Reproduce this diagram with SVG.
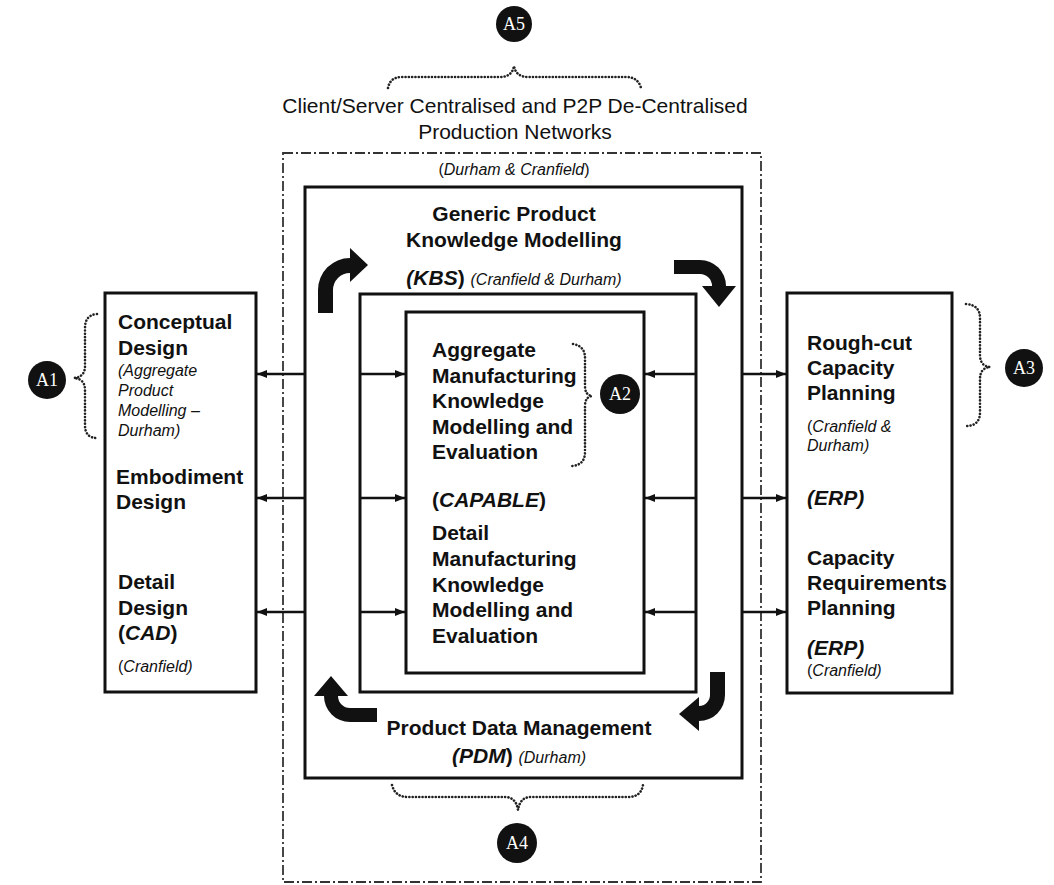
<svg xmlns="http://www.w3.org/2000/svg" width="1054" height="885" viewBox="0 0 1054 885">
  <defs>
    <style>
      .box { fill: none; stroke: #111; stroke-width: 3; }
      .dashbox { fill: none; stroke: #333; stroke-width: 1.8; stroke-dasharray: 10 3 2 3; }
      .conn { stroke: #111; stroke-width: 2.5; fill: none; marker-end: url(#head); }
      .brace { fill: none; stroke: #222; stroke-width: 2.6; stroke-linecap: round; stroke-dasharray: 0.1 3.2; }
      .bend { fill: #111; stroke: none; }
      .badge { fill: #111; }
      .badge-t { font-family: "Liberation Serif", "Times New Roman", serif; font-size: 18px; fill: #fff; text-anchor: middle; }
      .t { font-family: "Liberation Sans", Arial, sans-serif; font-size: 21px; fill: #111; }
      .b { font-family: "Liberation Sans", Arial, sans-serif; font-size: 21px; font-weight: bold; fill: #111; }
      .s { font-family: "Liberation Sans", Arial, sans-serif; font-size: 16px; font-style: italic; fill: #111; }
      .it { font-style: italic; }
      .up { font-style: normal; }
      .mid { text-anchor: middle; }
    </style>
    <marker id="head" viewBox="0 0 10 8" refX="10" refY="4" markerWidth="10" markerHeight="8" markerUnits="userSpaceOnUse" orient="auto">
      <path d="M0,0 L10,4 L0,8 z" fill="#111"/>
    </marker>
  </defs>

  <rect width="1054" height="885" fill="#fff"/>

  <!-- network boundary (A5) -->
  <g id="network">
    <text class="t mid" x="515" y="113">Client/Server Centralised and P2P De-Centralised</text>
    <text class="t mid" x="515" y="139">Production Networks</text>
    <rect class="dashbox" x="283" y="153" width="478" height="729"/>
    <text class="s mid" x="514" y="175"><tspan class="up">(</tspan>Durham &amp; Cranfield<tspan class="up">)</tspan></text>
  </g>

  <!-- KBS / PDM frame -->
  <g id="kbs-pdm">
    <rect class="box" x="305" y="187" width="437" height="591"/>
    <text class="b mid" x="514" y="221">Generic Product</text>
    <text class="b mid" x="514" y="247">Knowledge Modelling</text>
    <text class="b mid" x="514" y="285"><tspan class="it">(KBS</tspan>) <tspan font-size="16" font-weight="normal" font-style="italic">(Cranfield &amp; Durham)</tspan></text>
    <text class="b mid" x="519" y="735">Product Data Management</text>
    <text class="b mid" x="519" y="763"><tspan class="it">(PDM</tspan>) <tspan font-size="16" font-weight="normal" font-style="italic">(Durham)</tspan></text>
  </g>

  <!-- middle frame -->
  <g id="middle-frame">
    <rect class="box" x="360" y="294" width="336" height="398"/>
  </g>

  <!-- CAPABLE -->
  <g id="capable">
    <rect class="box" x="406" y="312" width="238" height="361" stroke-width="2.6"/>
    <text class="b" x="432" y="357">Aggregate</text>
    <text class="b" x="432" y="382.5">Manufacturing</text>
    <text class="b" x="432" y="408">Knowledge</text>
    <text class="b" x="432" y="433.5">Modelling and</text>
    <text class="b" x="432" y="459">Evaluation</text>
    <text class="b" x="432" y="507">(<tspan class="it">CAPABLE</tspan>)</text>
    <text class="b" x="432" y="540">Detail</text>
    <text class="b" x="432" y="566">Manufacturing</text>
    <text class="b" x="432" y="591.5">Knowledge</text>
    <text class="b" x="432" y="617">Modelling and</text>
    <text class="b" x="432" y="642.5">Evaluation</text>
  </g>

  <!-- design stages -->
  <g id="design">
    <rect class="box" x="105" y="293" width="151" height="399"/>
    <text class="b" x="118" y="329">Conceptual</text>
    <text class="b" x="118" y="355">Design</text>
    <text class="s" x="118" y="376">(Aggregate</text>
    <text class="s" x="118" y="396">Product</text>
    <text class="s" x="118" y="416">Modelling –</text>
    <text class="s" x="118" y="436">Durham)</text>
    <text class="b" x="116" y="484">Embodiment</text>
    <text class="b" x="116" y="509">Design</text>
    <text class="b" x="118" y="589">Detail</text>
    <text class="b" x="118" y="615">Design</text>
    <text class="b" x="118" y="640">(<tspan class="it">CAD</tspan>)</text>
    <text class="s" x="118" y="672"><tspan class="up">(</tspan>Cranfield)</text>
  </g>

  <!-- capacity planning -->
  <g id="planning">
    <rect class="box" x="787" y="293" width="165" height="400"/>
    <text class="b" x="807" y="350">Rough-cut</text>
    <text class="b" x="807" y="375">Capacity</text>
    <text class="b" x="807" y="400">Planning</text>
    <text class="s" x="807" y="432"><tspan class="up">(</tspan>Cranfield &amp;</text>
    <text class="s" x="807" y="451">Durham)</text>
    <text class="b it" x="807" y="505">(ERP)</text>
    <text class="b" x="807" y="565">Capacity</text>
    <text class="b" x="807" y="590">Requirements</text>
    <text class="b" x="807" y="615">Planning</text>
    <text class="b it" x="807" y="655">(ERP)</text>
    <text class="s" x="807" y="676"><tspan class="up">(</tspan>Cranfield)</text>
  </g>

  <!-- badges with their braces -->
  <g id="a1">
    <path class="brace" d="M97,314 Q85,315 85,328 L85,366 Q85,377 74,378 Q85,379 85,390 L85,425 Q85,438 97,438"/>
    <circle class="badge" cx="47" cy="380" r="19"/>
    <text class="badge-t" x="47" y="386">A1</text>
  </g>
  <g id="a2">
    <path class="brace" d="M573,344 Q585,346 585,358 L585,386 Q585,395 592,396 Q585,397 585,406 L585,452 Q585,465 572,466"/>
    <circle class="badge" cx="620" cy="394" r="20"/>
    <text class="badge-t" x="620" y="400">A2</text>
  </g>
  <g id="a3">
    <path class="brace" d="M966,304 Q980,305 980,318 L980,355 Q980,366 990,367 Q980,368 980,379 L980,412 Q980,426 966,426"/>
    <circle class="badge" cx="1024" cy="368" r="19"/>
    <text class="badge-t" x="1024" y="374">A3</text>
  </g>
  <g id="a4">
    <path class="brace" d="M392,785 Q395,797 408,797 L505,797 Q516,797 518,810 Q520,797 531,797 L628,797 Q641,797 643,785"/>
    <circle class="badge" cx="517" cy="843" r="20"/>
    <text class="badge-t" x="517" y="849">A4</text>
  </g>
  <g id="a5">
    <path class="brace" d="M388,88 Q390,77 402,77 L500,77 Q512,77 514,66 Q516,77 528,77 L626,77 Q638,77 641,88"/>
    <circle class="badge" cx="514" cy="24" r="18"/>
    <text class="badge-t" x="514" y="30">A5</text>
  </g>

  <!-- connectors and cycle arrows -->
  <g id="connectors">
    <line class="conn" x1="305" y1="374" x2="257" y2="374"/>
    <line class="conn" x1="305" y1="498" x2="257" y2="498"/>
    <line class="conn" x1="305" y1="612" x2="257" y2="612"/>
    <line class="conn" x1="360" y1="374" x2="405" y2="374"/>
    <line class="conn" x1="360" y1="498" x2="405" y2="498"/>
    <line class="conn" x1="360" y1="612" x2="405" y2="612"/>
    <line class="conn" x1="696" y1="374" x2="645" y2="374"/>
    <line class="conn" x1="696" y1="498" x2="645" y2="498"/>
    <line class="conn" x1="696" y1="612" x2="645" y2="612"/>
    <line class="conn" x1="742" y1="374" x2="786" y2="374"/>
    <line class="conn" x1="742" y1="498" x2="786" y2="498"/>
    <line class="conn" x1="742" y1="612" x2="786" y2="612"/>

    <!-- top-left: up then right -->
    <path class="bend" d="M318,313 L318,290 A32,32 0 0 1 350,258 L350,248 L368,265 L350,282 L350,273 A17,17 0 0 0 333,290 L333,313 Z"/>
    <!-- top-right: right then down -->
    <path class="bend" d="M674,260 L700,260 A26,26 0 0 1 726,286 L736,286 L719,307 L702,286 L712,286 A12,12 0 0 0 700,274 L674,274 Z"/>
    <!-- bottom-right: down then left -->
    <path class="bend" d="M725,672 L725,695 A26,26 0 0 1 699,721 L699,731 L679,714 L699,697 L699,706 A11,11 0 0 0 710,695 L710,672 Z"/>
    <!-- bottom-left: left then up -->
    <path class="bend" d="M377,722 L350,722 A26,26 0 0 1 324,696 L314,696 L331,676 L348,696 L338,696 A12,12 0 0 0 350,708 L377,708 Z"/>
  </g>
</svg>
